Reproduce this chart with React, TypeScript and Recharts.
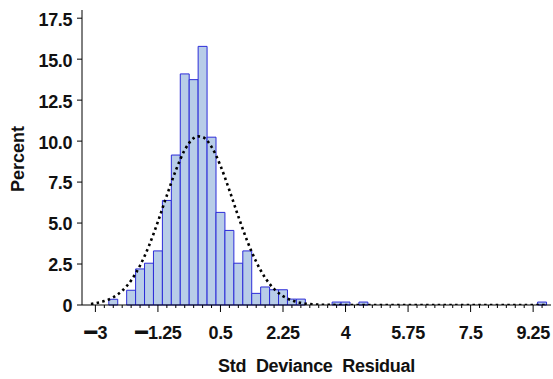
import React from 'react';
import { ComposedChart, XAxis, YAxis, Line, ReferenceArea, Label } from 'recharts';

// Histogram bins of the standardized deviance residuals (bin midpoints, percent of obs)
const binMid = [-2.5, -2.0, -1.75, -1.5, -1.25, -1.0, -0.75, -0.5, -0.25, 0, 0.25, 0.5, 0.75, 1.0, 1.25, 1.5, 1.75, 2.0, 2.25, 2.5, 2.75, 3.75, 4.0, 4.5, 9.5];
const binPct = [0.35, 0.9, 2.2, 2.55, 3.3, 6.38, 9.15, 14.1, 13.75, 15.78, 10.24, 5.65, 4.55, 2.55, 3.3, 0.71, 1.1, 0.93, 0.93, 0.36, 0.36, 0.18, 0.18, 0.18, 0.18];
const binWidth = 0.25;

// Fitted normal density curve, scaled to percent per bin
const curveX = [-3.125, -3.0, -2.75, -2.5, -2.25, -2.0, -1.75, -1.5, -1.25, -1.0, -0.75, -0.5, -0.25, -0.125, 0.0, 0.25, 0.5, 0.75, 1.0, 1.25, 1.5, 1.75, 2.0, 2.25, 2.5, 2.75, 3.0, 3.25, 3.5, 4.0, 5.0, 6.0, 7.0, 8.0, 9.0, 9.625];
const curvePct = [0.06, 0.11, 0.24, 0.47, 0.87, 1.5, 2.41, 3.62, 5.09, 6.69, 8.21, 9.46, 10.18, 10.29, 10.25, 9.65, 8.5, 7.0, 5.4, 3.9, 2.64, 1.66, 0.98, 0.54, 0.28, 0.13, 0.06, 0.02, 0.01, 0, 0, 0, 0, 0, 0, 0];

const xMajorTicks = [-3, -1.25, 0.5, 2.25, 4, 5.75, 7.5, 9.25];
const xTickLabels = ['\u22123', '\u22121.25', '0.5', '2.25', '4', '5.75', '7.5', '9.25'];
const yTicks = [0, 2.5, 5, 7.5, 10, 12.5, 15, 17.5];
const yTickLabels = ['0', '2.5', '5.0', '7.5', '10.0', '12.5', '15.0', '17.5'];
const xDomain: [number, number] = [-3.375, 9.75];
const yDomain: [number, number] = [0, 18];

const minorStep = 0.25;
const minorFrom = -3;
const minorTo = 9.5;
const xAllTicks = Array.from(
  { length: Math.round((minorTo - minorFrom) / minorStep) + 1 },
  (_, i) => minorFrom + i * minorStep
);

const curveData = curveX.map((x, i) => ({ x, pct: curvePct[i] }));

const FONT = "'Liberation Sans', Arial, Helvetica, sans-serif";
const TEXT_COLOR = '#111';
const BAR_FILL = '#b8cde8';
const BAR_STROKE = '#2c2cd8';
const MINUS = '\u2212';

const XTick = (props: any) => {
  const { x, y, payload } = props;
  const v = payload.value;
  const idx = xMajorTicks.findIndex((t) => Math.abs(t - v) < 1e-6);
  const major = idx >= 0;
  const label = major ? xTickLabels[idx] : '';
  const negative = label.startsWith(MINUS);
  return (
    <g>
      <line x1={x} x2={x} y1={y} y2={y + (major ? 7 : 3)} stroke="#000" strokeWidth={1} />
      {major && (
        <text
          x={x}
          y={y + 33.5}
          textAnchor="middle"
          fontFamily={FONT}
          fontWeight="bold"
          fontSize={18}
          letterSpacing={-0.4}
          fill={TEXT_COLOR}
        >
          {negative ? (
            <>
              <tspan fontSize={24} dy={1.5} stroke={TEXT_COLOR} strokeWidth={1}>{MINUS}</tspan>
              <tspan dy={-1.5}>{label.slice(1)}</tspan>
            </>
          ) : (
            label
          )}
        </text>
      )}
    </g>
  );
};

const YTitle = (props: any) => {
  const vb = props.viewBox;
  return (
    <text
      transform={`translate(${vb.x + 18}, ${vb.y + vb.height / 2 + 1.5}) rotate(-90)`}
      textAnchor="middle"
      dominantBaseline="central"
      fontFamily={FONT}
      fontWeight="bold"
      fontSize={18}
      fill={TEXT_COLOR}
    >
      Percent
    </text>
  );
};

const XTitle = (props: any) => {
  const vb = props.viewBox;
  return (
    <text
      x={vb.x + vb.width / 2}
      y={vb.y + 66.5}
      textAnchor="middle"
      fontFamily={FONT}
      fontWeight="bold"
      fontSize={18}
      letterSpacing={-0.3}
      fill={TEXT_COLOR}
      style={{ wordSpacing: 5 }}
    >
      Std Deviance Residual
    </text>
  );
};

export default function App() {
  return (
    <div style={{ position: 'absolute', left: 0, top: 0, width: 553, height: 379, background: '#fff' }}>
      <ComposedChart
        width={553}
        height={379}
        data={curveData}
        margin={{ top: 10, right: 2, bottom: 0, left: 0 }}
      >
        <XAxis
          dataKey="x"
          type="number"
          domain={xDomain}
          ticks={xAllTicks}
          interval={0}
          allowDataOverflow
          tick={<XTick />}
          tickLine={false}
          tickSize={0}
          tickMargin={0}
          height={74}
          axisLine={{ stroke: '#000', strokeWidth: 1 }}
        >
          <Label content={<XTitle />} />
        </XAxis>
        <YAxis
          type="number"
          domain={yDomain}
          ticks={yTicks}
          interval={0}
          allowDataOverflow
          width={82}
          tickSize={5}
          tickMargin={5}
          tickFormatter={(v: number) => yTickLabels[yTicks.indexOf(v)] ?? String(v)}
          tick={{ fill: TEXT_COLOR, fontSize: 18, fontWeight: 'bold', fontFamily: FONT, letterSpacing: -0.4, dy: 1 }}
          tickLine={{ stroke: '#000' }}
          axisLine={{ stroke: '#000', strokeWidth: 1 }}
        >
          <Label content={<YTitle />} />
        </YAxis>
        {binMid.map((m, i) => (
          <ReferenceArea
            key={`bin-${i}`}
            x1={m - binWidth / 2}
            x2={m + binWidth / 2}
            y1={0}
            y2={binPct[i]}
            fill={BAR_FILL}
            fillOpacity={1}
            stroke={BAR_STROKE}
            strokeWidth={1}
            ifOverflow="visible"
          />
        ))}
        <Line
          dataKey="pct"
          type="monotone"
          stroke="#000"
          strokeWidth={2.6}
          strokeDasharray="2.5 3.3"
          dot={false}
          activeDot={false}
          isAnimationActive={false}
        />
      </ComposedChart>
    </div>
  );
}
